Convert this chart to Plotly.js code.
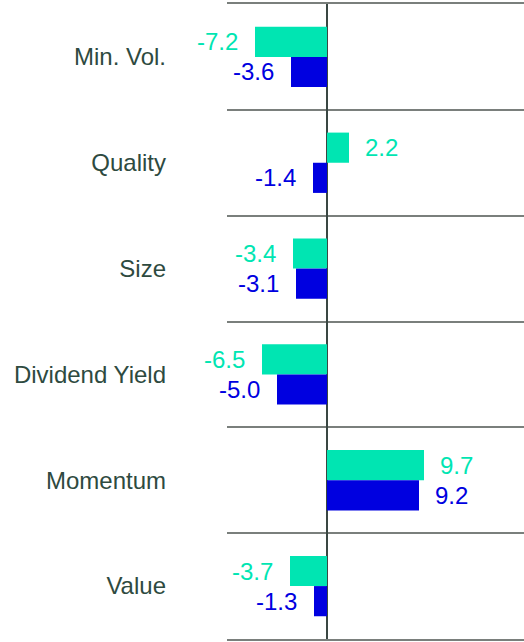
<!DOCTYPE html>
<html>
<head>
<meta charset="utf-8">
<script src="https://cdn.plot.ly/plotly-3.0.1.min.js"></script>
<style>html,body{margin:0;padding:0;background:#fff;}#chart{width:524px;height:642px;}</style>
</head>
<body>
<div id="chart"></div>
<script>
var categories = ["Min. Vol.", "Quality", "Size", "Dividend Yield", "Momentum", "Value"];
var seriesA = [-7.2, 2.2, -3.4, -6.5, 9.7, -3.7];
var seriesB = [-3.6, -1.4, -3.1, -5.0, 9.2, -1.3];
var colorA = "#00E5B2";
var colorB = "#0000E0";

var traces = [
  {type: "bar", orientation: "h", y: categories, x: seriesA, marker: {color: colorA}, hoverinfo: "none"},
  {type: "bar", orientation: "h", y: categories, x: seriesB, marker: {color: colorB}, hoverinfo: "none"}
];

var annotations = [];
function addLabels(vals, color, yshift) {
  vals.forEach(function (v, i) {
    annotations.push({
      x: v, y: categories[i], xref: "x", yref: "y",
      text: v.toFixed(1), showarrow: false,
      xanchor: v < 0 ? "right" : "left",
      xshift: v < 0 ? -15 : 14,
      yshift: yshift,
      font: {family: "Liberation Sans, Arial, sans-serif", size: 24, color: color}
    });
  });
}
addLabels(seriesA, colorA, 15);
addLabels(seriesB, colorB, -15);

var layout = {
  width: 524, height: 642,
  margin: {l: 227, r: 0, t: 4, b: 3},
  paper_bgcolor: "#fff", plot_bgcolor: "#fff",
  showlegend: false,
  barmode: "group", bargap: 0.43, bargroupgap: 0,
  font: {family: "Liberation Sans, Arial, sans-serif"},
  xaxis: {
    range: [-10, 19.7], showticklabels: false, ticks: "",
    showgrid: false, zeroline: true, zerolinecolor: "#3a4743", zerolinewidth: 1.5,
    showline: true, mirror: true, linecolor: "#7a7f7c", linewidth: 2
  },
  yaxis: {
    type: "category", autorange: "reversed",
    tickson: "boundaries", showgrid: true, gridcolor: "#7a7f7c", gridwidth: 2,
    ticks: "", ticklabelstandoff: 60, zeroline: false, showline: false,
    tickfont: {size: 24, color: "#2e4a40", family: "Liberation Sans, Arial, sans-serif"}
  },
  annotations: annotations
};

Plotly.newPlot("chart", traces, layout, {staticPlot: true});
</script>
</body>
</html>
